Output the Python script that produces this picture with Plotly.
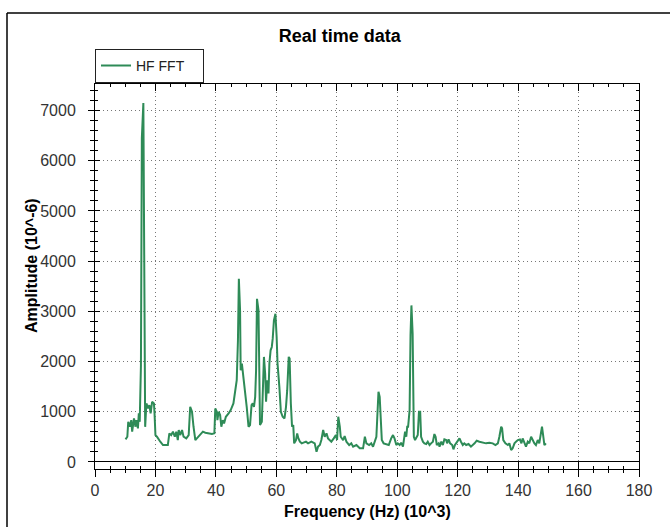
import plotly.graph_objects as go

# ---- data (frequency in 10^3 Hz, amplitude in 10^-6) ----
freq = [10.1, 10.7, 11.0, 11.5, 12.0, 12.3, 12.9, 13.4, 13.7, 14.2, 14.5, 14.8,
        15.2, 15.3, 15.5, 16.0, 16.3, 16.6,
        17.0, 17.6, 18.0, 18.4, 18.9, 19.5, 19.7, 20.0, 20.5, 21.1, 21.6, 22.5,
        23.3, 24.1, 24.6, 25.2, 25.8, 26.4, 26.9, 27.4, 27.7, 28.2, 28.8, 29.3,
        30.2, 31.0, 31.5, 32.1, 32.6, 33.2, 33.7, 34.8, 35.7, 36.5, 37.6, 38.7,
        39.5, 39.8, 40.3, 40.5, 40.9, 41.4, 41.8, 42.3, 42.7, 43.3, 44.2, 44.9,
        45.8, 46.4, 46.9, 47.3, 47.6, 48.0, 48.2, 48.6, 49.1, 49.7, 50.2, 50.8,
        51.3, 51.8, 52.2, 52.6, 53.0, 53.3, 53.6, 54.1, 54.3, 54.6, 55.2, 55.5,
        55.9, 56.3, 56.6, 57.0, 57.4, 57.7, 58.1, 58.5, 58.8, 59.2, 59.7, 60.1,
        60.4, 61.0, 61.5, 62.1, 62.7, 63.2, 63.6, 64.1, 64.4, 64.8, 65.2, 65.6,
        65.9, 66.5, 66.9, 67.3, 67.8, 68.4, 68.9, 69.8, 70.5, 71.6, 72.7, 73.3,
        73.8, 74.4, 74.9, 75.5, 76.0, 76.6, 77.1, 77.7, 78.2, 79.0, 79.7, 80.1,
        80.5, 81.0, 81.3, 82.1, 82.6, 83.2, 84.1, 84.8, 85.4, 86.5, 87.6, 88.7,
        89.3, 89.8, 90.7, 91.4, 92.0, 93.1, 93.5, 93.8, 94.2, 94.5, 94.9, 95.5,
        96.4, 97.2, 98.0, 98.6, 99.1, 99.7, 100.2, 100.8, 101.3, 101.9, 102.2,
        102.6, 103.0, 103.3, 103.6, 104.1, 104.4, 104.7, 105.1, 105.3, 105.5,
        105.9, 106.5, 106.8, 107.2, 107.6, 107.9, 108.5, 109.0, 109.6, 110.1,
        110.7, 111.2, 111.8, 112.3, 112.7, 113.1, 113.7, 114.0, 114.6, 115.1,
        115.6, 116.2, 116.5, 117.0, 117.5, 118.2, 118.6, 119.1, 119.5, 120.0,
        120.6, 121.1, 121.7, 122.2, 122.8, 123.6, 124.4, 125.6, 126.3, 127.2,
        128.3, 129.4, 130.5, 131.6, 132.5, 133.3, 133.8, 134.4, 134.7, 135.1,
        135.8, 136.6, 137.1, 137.7, 138.2, 138.8, 139.3, 139.9, 140.6, 141.1,
        141.5, 142.1, 142.6, 143.2, 143.7, 144.3, 144.8, 145.4, 145.9, 146.5,
        147.0, 147.6, 147.9, 148.2, 148.7, 149.2]

amplitude = [450, 503, 801, 702, 834, 603, 868, 702, 834, 669, 967, 801,
             1930, 5000, 6450, 7150, 3580, 700,
             1166, 1066, 1132, 967, 1199, 1166, 967, 536, 503, 437, 404, 338,
             338, 338, 570, 536, 603, 503, 603, 437, 636, 536, 636, 503,
             470, 536, 1099, 1000, 702, 437, 470, 536, 603, 583, 570, 556,
             570, 1066, 1000, 834, 1000, 934, 702, 834, 768, 901, 967, 1033,
             1166, 1430, 1629, 2424, 3650, 3020, 1828, 1960, 1695, 1430, 1099, 702,
             735, 1132, 1166, 1099, 1298, 1828, 3250, 3020, 1629, 735, 801, 1430,
             2093, 1762, 1199, 1629, 1364, 1960, 2225, 2291, 2457, 2821, 2954, 2490,
             1960, 1497, 1000, 901, 868, 1099, 1430, 2093, 2060, 1166, 702, 735,
             371, 437, 570, 470, 404, 371, 384, 404, 371, 404, 371, 205,
             305, 338, 437, 636, 503, 570, 470, 437, 404, 470, 536, 437,
             901, 702, 503, 437, 517, 404, 338, 371, 305, 338, 272, 272,
             503, 371, 338, 371, 305, 503, 1033, 1397, 1298, 834, 437, 371,
             358, 338, 470, 536, 470, 338, 371, 338, 384, 305, 437,
             603, 503, 702, 702, 1033, 2523, 3119, 2556, 1033, 503,
             437, 503, 536, 1000, 1000, 503, 404, 371, 358, 404,
             338, 371, 404, 556, 503, 338, 371, 305, 404, 338,
             450, 437, 371, 450, 371, 338, 252, 338, 371, 437,
             470, 404, 338, 371, 338, 358, 305, 371, 424, 404,
             384, 371, 384, 371, 338, 371, 503, 702, 669, 437,
             371, 338, 371, 238, 272, 371, 404, 437, 450, 371,
             470, 371, 305, 404, 371, 503, 437, 371, 338, 437,
             371, 603, 702, 570, 338, 371]

series_name = "HF FFT"
chart_title = "Real time data"
x_title = "Frequency (Hz) (10^3)"
y_title = "Amplitude (10^-6)"

FONT = "Arial, 'Liberation Sans', sans-serif"
LINE_COLOR = "#2e8b57"
X_RANGE = [0, 180]
Y_RANGE = [-140, 7530]

fig = go.Figure()
fig.add_trace(go.Scatter(x=freq, y=amplitude, mode="lines", name=series_name,
                         line=dict(color=LINE_COLOR, width=2)))
# helper trace for the overlay axes (invisible)
fig.add_trace(go.Scatter(x=freq, y=amplitude, mode="lines", xaxis="x2", yaxis="y2",
                         line=dict(color="rgba(0,0,0,0)", width=0),
                         showlegend=False, hoverinfo="skip"))

tickfont = dict(family=FONT, size=16, color="#333333")

fig.update_layout(
    width=670, height=527,
    margin=dict(l=95, r=31, t=84, b=58),
    paper_bgcolor="white", plot_bgcolor="white",
    title=dict(text="<b>" + chart_title + "</b>", xref="container", x=0.507,
               y=1 - 36 / 527, yanchor="middle", xanchor="center",
               font=dict(family=FONT, size=18, color="black")),
    showlegend=True,
    legend=dict(x=0, xanchor="left", y=1.047, yanchor="middle",
                bordercolor="#222222", borderwidth=1, bgcolor="white",
                font=dict(family=FONT, size=14, color="#222222"),
                orientation="h", entrywidth=62, entrywidthmode="pixels"),
    xaxis=dict(range=X_RANGE, dtick=20, tick0=0, showline=True, linecolor="black",
               linewidth=1, ticks="outside", ticklen=7, tickcolor="black",
               minor=dict(dtick=5, ticks="outside", ticklen=3, tickcolor="black",
                          showgrid=False),
               showgrid=True, gridcolor="#777777", griddash="1px,3px", gridwidth=1,
               zeroline=False, tickfont=tickfont, mirror=False),
    yaxis=dict(range=Y_RANGE, dtick=1000, tick0=0, showline=True, linecolor="black",
               linewidth=1, ticks="outside", ticklen=6, tickcolor="black",
               minor=dict(dtick=200, ticks="outside", ticklen=4, tickcolor="black",
                          showgrid=False),
               showgrid=True, gridcolor="#777777", griddash="1px,3px", gridwidth=1,
               zeroline=True, zerolinecolor="black", zerolinewidth=1,
               tickfont=tickfont, ticklabelstandoff=9, mirror=False),
    xaxis2=dict(range=X_RANGE, dtick=20, tick0=0, overlaying="x", anchor="y2",
                side="bottom", showline=True, linecolor="black", linewidth=1,
                ticks="inside", ticklen=7, tickcolor="black", mirror="allticks",
                minor=dict(dtick=5, ticks="inside", ticklen=3, tickcolor="black",
                           showgrid=False),
                showgrid=False, zeroline=False, showticklabels=False),
    yaxis2=dict(range=Y_RANGE, dtick=1000, tick0=0, overlaying="y", anchor="x2",
                side="left", showline=True, linecolor="black", linewidth=1,
                ticks="inside", ticklen=5, tickcolor="black", mirror="allticks",
                minor=dict(dtick=200, ticks="inside", ticklen=3, tickcolor="black",
                           showgrid=False),
                showgrid=False, zeroline=False, showticklabels=False),
    annotations=[
        dict(text="<b>" + x_title + "</b>", xref="paper", yref="paper",
             x=0.5, y=(469 - 511) / 385, xanchor="center", yanchor="middle",
             showarrow=False, font=dict(family=FONT, size=16, color="black")),
        dict(text="<b>" + y_title + "</b>", xref="paper", yref="paper",
             x=(31 - 95) / 544, y=(469 - 266) / 385, xanchor="center",
             yanchor="middle", textangle=-90, showarrow=False,
             font=dict(family=FONT, size=16, color="black")),
    ],
    shapes=[
        # outer frame: left and top edges (right/bottom lie outside the view)
        dict(type="line", xref="paper", yref="paper",
             x0=(7 - 95) / 544, x1=(7 - 95) / 544,
             y0=(469 - 540) / 385, y1=(469 - 13) / 385,
             line=dict(color="black", width=1.5), layer="above"),
        dict(type="line", xref="paper", yref="paper",
             x0=(7 - 95) / 544, x1=(690 - 95) / 544,
             y0=(469 - 13) / 385, y1=(469 - 13) / 385,
             line=dict(color="black", width=1.5), layer="above"),
    ],
)

fig.write_html("out.html")
